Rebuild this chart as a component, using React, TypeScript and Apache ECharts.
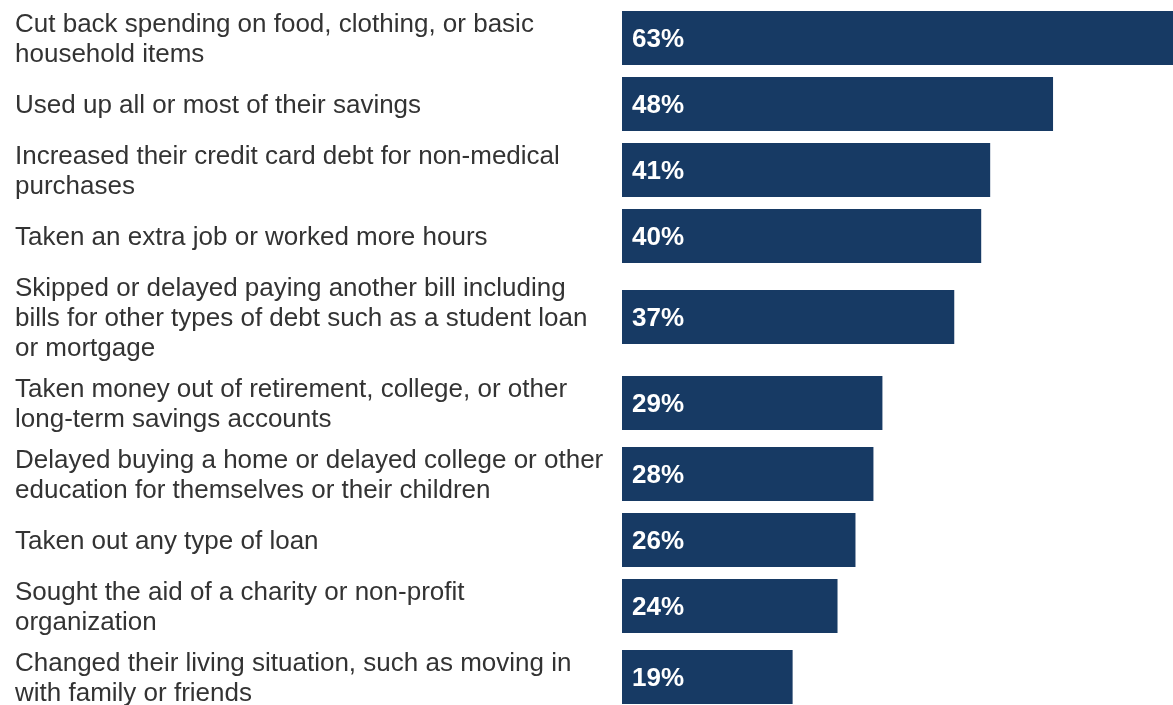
import React, { useEffect, useRef } from "react";
import * as echarts from "echarts";

const categories = [
  "Cut back spending on food, clothing, or basic\nhousehold items",
  "Used up all or most of their savings",
  "Increased their credit card debt for non-medical\npurchases",
  "Taken an extra job or worked more hours",
  "Skipped or delayed paying another bill including\nbills for other types of debt such as a student loan\nor mortgage",
  "Taken money out of retirement, college, or other\nlong-term savings accounts",
  "Delayed buying a home or delayed college or other\neducation for themselves or their children",
  "Taken out any type of loan",
  "Sought the aid of a charity or non-profit\norganization",
  "Changed their living situation, such as moving in\nwith family or friends",
];

const values = [63, 48, 41, 40, 37, 29, 28, 26, 24, 19];

// Table-like layout: each row's height depends on how many lines its label wraps to.
const ROW_HEIGHT_BY_LINES: Record<number, number> = { 1: 61, 2: 71, 3: 101 };
const BAR_THICKNESS = 54;
const FONT = "'Liberation Sans', Arial, sans-serif";

function buildRows() {
  const centers: number[] = [];
  let acc = 0;
  categories.forEach((c) => {
    const lines = c.split("\n").length;
    const h = ROW_HEIGHT_BY_LINES[lines] ?? 61;
    centers.push(acc + h / 2);
    acc += h;
  });
  return { centers, total: acc };
}

export default function App() {
  const ref = useRef<HTMLDivElement>(null);
  useEffect(() => {
    if (!ref.current) return;
    const chart = echarts.init(ref.current, undefined, { renderer: "svg" });
    const { centers, total } = buildRows();
    const labelFor = (v: number) => {
      let best = 0;
      let bestD = Infinity;
      centers.forEach((c, i) => {
        const d = Math.abs(c - v);
        if (d < bestD) {
          bestD = d;
          best = i;
        }
      });
      return categories[best];
    };
    chart.setOption({
      animation: false,
      grid: {
        left: 622,
        top: 2.5,
        height: total,
        width: 898,
        containLabel: false,
        outerBoundsMode: "none",
      },
      xAxis: {
        type: "value",
        min: 0,
        max: 100,
        show: false,
      },
      yAxis: {
        type: "value",
        min: 0,
        max: total,
        inverse: true,
        axisLine: { show: false },
        axisTick: { show: false },
        splitLine: { show: false },
        axisLabel: {
          customValues: centers,
          formatter: (v: number) => labelFor(v),
          align: "left",
          margin: 607,
          fontSize: 26,
          lineHeight: 30,
          color: "#333333",
          fontFamily: FONT,
        },
      },
      series: [
        {
          type: "custom",
          data: values.map((v, i) => [v, centers[i]]),
          encode: { x: 0, y: 1 },
          renderItem: (params: any, api: any) => {
            const v = api.value(0);
            const y = api.value(1);
            const start = api.coord([0, y]);
            const end = api.coord([v, y]);
            return {
              type: "group",
              children: [
                {
                  type: "rect",
                  shape: {
                    x: start[0],
                    y: start[1] - BAR_THICKNESS / 2,
                    width: end[0] - start[0],
                    height: BAR_THICKNESS,
                  },
                  style: { fill: "#173a64" },
                },
                {
                  type: "text",
                  x: start[0] + 10,
                  y: start[1],
                  style: {
                    text: v + "%",
                    fill: "#ffffff",
                    fontSize: 26,
                    fontWeight: "bold",
                    fontFamily: FONT,
                    align: "left",
                    verticalAlign: "middle",
                  },
                },
              ],
            };
          },
        },
      ],
    });
    return () => chart.dispose();
  }, []);
  return (
    <div
      ref={ref}
      style={{ position: "fixed", left: 0, top: 0, width: 1173, height: 705 }}
    />
  );
}
